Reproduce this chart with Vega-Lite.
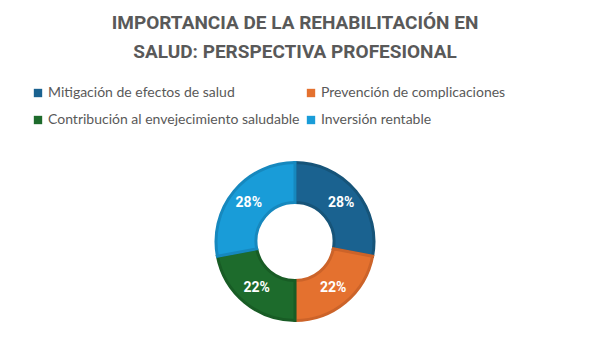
{
  "$schema": "https://vega.github.io/schema/vega-lite/v6.json",
  "width": 590,
  "height": 351,
  "autosize": {"type": "fit", "contains": "padding"},
  "padding": {"top": 14, "bottom": 18, "left": 31, "right": 31},
  "background": "white",
  "title": {
    "text": ["IMPORTANCIA DE LA REHABILITACIÓN EN", "SALUD: PERSPECTIVA PROFESIONAL"],
    "font": "Roboto",
    "fontSize": 19,
    "fontWeight": "bold",
    "color": "#595959",
    "lineHeight": 29,
    "anchor": "middle",
    "offset": 24
  },
  "data": {
    "values": [
      {"categoria": "Mitigación de efectos de salud", "valor": 28, "etiqueta": "28%", "orden": 1},
      {"categoria": "Prevención de complicaciones", "valor": 22, "etiqueta": "22%", "orden": 2},
      {"categoria": "Contribución al envejecimiento saludable", "valor": 22, "etiqueta": "22%", "orden": 3},
      {"categoria": "Inversión rentable", "valor": 28, "etiqueta": "28%", "orden": 4}
    ]
  },
  "encoding": {
    "theta": {"field": "valor", "type": "quantitative", "stack": true},
    "order": {"field": "orden", "type": "quantitative"}
  },
  "layer": [
    {
      "mark": {"type": "arc", "innerRadius": 39, "outerRadius": 79, "strokeWidth": 3},
      "encoding": {
        "color": {
          "field": "categoria",
          "type": "nominal",
          "sort": null,
          "scale": {
            "domain": ["Mitigación de efectos de salud", "Prevención de complicaciones", "Contribución al envejecimiento saludable", "Inversión rentable"],
            "range": ["#1A6290", "#E4712F", "#1D6B2C", "#199CD8"]
          },
          "legend": {
            "orient": "top",
            "direction": "horizontal",
            "columns": 2,
            "title": null,
            "symbolType": "square",
            "symbolSize": 70,
            "symbolStrokeWidth": 0,
            "labelFont": "Lato",
            "labelFontSize": 14,
            "labelColor": "#595959",
            "labelOffset": 3,
            "rowPadding": 13,
            "columnPadding": 4,
            "offset": 23,
            "labelLimit": 400
          }
        },
        "stroke": {
          "field": "categoria",
          "type": "nominal",
          "scale": {
            "domain": ["Mitigación de efectos de salud", "Prevención de complicaciones", "Contribución al envejecimiento saludable", "Inversión rentable"],
            "range": ["#165479", "#CC6329", "#185C25", "#1688BE"]
          },
          "legend": null
        }
      }
    },
    {
      "mark": {"type": "text", "radius": 60, "font": "Roboto", "fontWeight": "bold", "fontSize": 14, "fill": "white"},
      "encoding": {"text": {"field": "etiqueta", "type": "nominal"}}
    }
  ]
}
